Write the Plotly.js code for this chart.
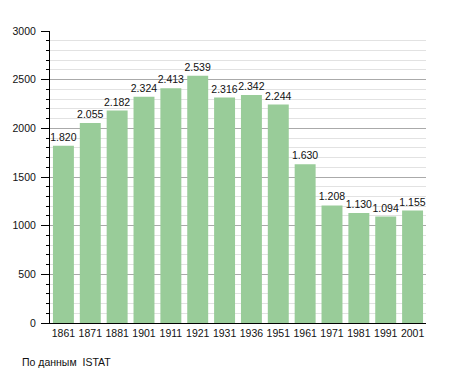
<!DOCTYPE html>
<html>
<head>
<meta charset="utf-8">
<script src="https://cdn.plot.ly/plotly-3.0.1.min.js"></script>
<style>
html,body{margin:0;padding:0;background:#fff;}
#chart{width:455px;height:373px;}
</style>
</head>
<body>
<div id="chart"></div>
<script>
const years = ['1861','1871','1881','1901','1911','1921','1931','1936','1951','1961','1971','1981','1991','2001'];
const population = [1820, 2055, 2182, 2324, 2413, 2539, 2316, 2342, 2244, 1630, 1208, 1130, 1094, 1155];
const sourceNote = 'По данным  ISTAT';

const W = 455, H = 373;
const m = {l: 50, r: 29, t: 31, b: 50};
const pw = W - m.l - m.r, ph = H - m.t - m.b;

const trace = {
  type: 'bar',
  x: years,
  y: population,
  marker: {color: '#99cc99', line: {width: 0}},
  texttemplate: '%{y:,d}',
  textposition: 'outside',
  constraintext: 'none',
  textfont: {family: 'Liberation Sans, Arial, sans-serif', size: 10.5, color: '#111'},
  cliponaxis: false,
  hoverinfo: 'none'
};

const layout = {
  width: W, height: H,
  margin: m,
  separators: ',.',
  paper_bgcolor: '#fff',
  plot_bgcolor: '#fff',
  bargap: 0.22,
  showlegend: false,
  font: {family: 'Liberation Sans, Arial, sans-serif', size: 10.5, color: '#111'},
  xaxis: {
    type: 'category',
    showline: true, linecolor: '#000', linewidth: 1,
    ticks: '', showgrid: false,
    tickfont: {size: 10.5, color: '#111'}
  },
  yaxis: {
    range: [0, 3000],
    dtick: 500,
    showline: true, linecolor: '#000', linewidth: 1,
    ticks: 'outside', ticklen: 8, tickcolor: '#000',
    ticklabelstandoff: 3,
    showgrid: true, gridcolor: '#aaaaaa', gridwidth: 1,
    zeroline: false,
    tickfont: {size: 10.5, color: '#111'},
    minor: {dtick: 100, showgrid: true, gridcolor: '#e2e2e2', gridwidth: 1, ticks: 'outside', ticklen: 3, tickcolor: '#000'}
  },
  annotations: [{
    text: sourceNote,
    xref: 'paper', yref: 'paper',
    x: (20 - m.l) / pw, y: (H - m.b - 362) / ph,
    xanchor: 'left', yanchor: 'middle',
    showarrow: false,
    font: {size: 10.5, color: '#111'}
  }]
};

Plotly.newPlot('chart', [trace], layout, {staticPlot: true, displayModeBar: false});
</script>
</body>
</html>
